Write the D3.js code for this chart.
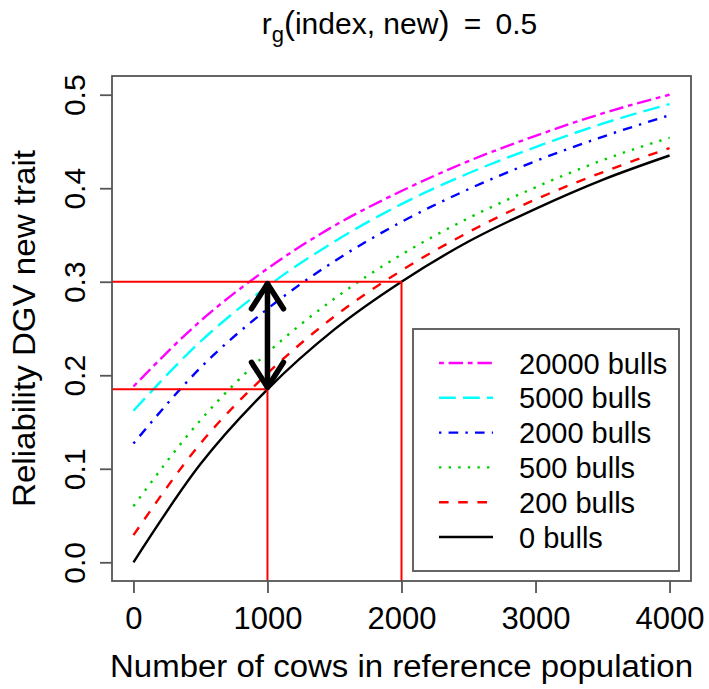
<!DOCTYPE html>
<html>
<head>
<meta charset="utf-8">
<script src="https://cdn.jsdelivr.net/npm/d3@7"></script>
<style>
	body { margin: 0; background: #fff; }
	svg { display: block; font-family: 'Liberation Sans', Arial, sans-serif; }
</style>
</head>
<body>
<div id="chart"></div>
<script>
// number of cows in reference population
const cows = [0, 500, 1000, 1500, 2000, 2500, 3000, 3500, 4000];

// reliability of DGV for the new trait, one array per number of bulls
const bulls20000 = [0.188, 0.258, 0.314, 0.360, 0.397, 0.429, 0.456, 0.480, 0.500];
const bulls5000 = [0.162, 0.236, 0.295, 0.343, 0.383, 0.416, 0.444, 0.469, 0.490];
const bulls2000 = [0.127, 0.208, 0.271, 0.322, 0.364, 0.399, 0.429, 0.455, 0.478];
const bulls500 = [0.060, 0.152, 0.224, 0.282, 0.329, 0.368, 0.401, 0.430, 0.454];
const bulls200 = [0.029, 0.127, 0.202, 0.263, 0.312, 0.353, 0.388, 0.417, 0.443];
const bulls0 = [0.000, 0.105, 0.185, 0.249, 0.300, 0.343, 0.378, 0.409, 0.435];

const seriesNames = ['20000 bulls', '5000 bulls', '2000 bulls', '500 bulls', '200 bulls', '0 bulls'];
const seriesColors = ['#ff00ff', '#00ffff', '#0000ff', '#00cd00', '#ff0000', '#000000'];
// R lty: twodash, longdash, dotdash, dotted, dashed, solid
const seriesLty = ['2262', '73', '1343', '13', '44', ''];

const xTicks = [0, 1000, 2000, 3000, 4000];
const yTicks = [0, 0.1, 0.2, 0.3, 0.4, 0.5];

// red guide lines: cows without bulls needed for the reliability gain
const guideCows = [1000, 2000];
const guideRel = [0.185, 0.3];

const width = 709;
const height = 689;
const lwd = 2.4;

const allSeries = [bulls20000, bulls5000, bulls2000, bulls500, bulls200, bulls0];

const x = d3.scaleLinear().domain([-160, 4160]).range([112, 691]);
const y = d3.scaleLinear().domain([-0.02, 0.52]).range([581, 76]);

const svg = d3.select('#chart').append('svg').attr('width', width).attr('height', height);

const dash = (lty) => (lty ? lty.split('').map((c) => +c * lwd).join(' ') : null);

// curves
const line = d3
	.line()
	.x((d) => x(d[0]))
	.y((d) => y(d[1]))
	.curve(d3.curveMonotoneX);

svg.append('g')
	.selectAll('path')
	.data(allSeries)
	.join('path')
	.attr('d', (s) => line(s.map((v, i) => [cows[i], v])))
	.attr('fill', 'none')
	.attr('stroke', (d, i) => seriesColors[i])
	.attr('stroke-width', lwd)
	.attr('stroke-dasharray', (d, i) => dash(seriesLty[i]));

// red guide lines
const guides = svg.append('g').attr('stroke', '#ff0000').attr('stroke-width', 2);
guideCows.forEach((c, i) => {
	guides.append('line')
		.attr('x1', x(-160)).attr('x2', x(c))
		.attr('y1', y(guideRel[i])).attr('y2', y(guideRel[i]));
	guides.append('line')
		.attr('x1', x(c)).attr('x2', x(c))
		.attr('y1', y(guideRel[i])).attr('y2', y(-0.02));
});

// double arrow
const ax = x(guideCows[0]);
const aTop = y(guideRel[1]);
const aBot = y(guideRel[0]);
const arrow = svg.append('g')
	.attr('stroke', '#000').attr('stroke-width', 5.5)
	.attr('fill', 'none').attr('stroke-linecap', 'round').attr('stroke-linejoin', 'round');
arrow.append('line').attr('x1', ax).attr('x2', ax).attr('y1', aTop + 2).attr('y2', aBot - 2);
arrow.append('path').attr('d', `M${ax - 16},${aTop + 27}L${ax},${aTop + 2}L${ax + 16},${aTop + 27}`);
arrow.append('path').attr('d', `M${ax - 16},${aBot - 27}L${ax},${aBot - 2}L${ax + 16},${aBot - 27}`);

// axes
const xAxis = svg.append('g')
	.attr('transform', `translate(0,${y(-0.02)})`)
	.call(d3.axisBottom(x).tickValues(xTicks).tickFormat(d3.format('d')).tickSize(12).tickPadding(14));
xAxis.select('.domain').remove();
xAxis.selectAll('line').attr('stroke', '#555').attr('stroke-width', 1.8);
xAxis.selectAll('text').attr('font-size', 31).attr('fill', '#000').attr('font-family', null);

const yAxis = svg.append('g')
	.attr('transform', `translate(${x(-160)},0)`)
	.call(d3.axisLeft(y).tickValues(yTicks).tickFormat(d3.format('.1f')).tickSize(12));
yAxis.select('.domain').remove();
yAxis.selectAll('line').attr('stroke', '#555').attr('stroke-width', 1.8);
yAxis.selectAll('text')
	.attr('font-size', 30).attr('fill', '#000').attr('font-family', null)
	.attr('x', 0).attr('dy', 0)
	.attr('text-anchor', 'middle')
	.attr('transform', 'translate(-27,0) rotate(-90)');

// plot box
svg.append('rect')
	.attr('x', x(-160)).attr('y', y(0.52))
	.attr('width', x(4160) - x(-160)).attr('height', y(-0.02) - y(0.52))
	.attr('fill', 'none').attr('stroke', '#555').attr('stroke-width', 1.8);

// legend
const legend = svg.append('g');
legend.append('rect')
	.attr('x', 413).attr('y', 329).attr('width', 266).attr('height', 242)
	.attr('fill', '#fff').attr('stroke', '#555').attr('stroke-width', 1.8);
const items = legend.selectAll('g.item')
	.data(seriesNames)
	.join('g')
	.attr('class', 'item')
	.attr('transform', (d, i) => `translate(0,${363 + i * 34.8})`);
items.append('line')
	.attr('x1', 439).attr('x2', 493)
	.attr('stroke', (d, i) => seriesColors[i])
	.attr('stroke-width', lwd)
	.attr('stroke-dasharray', (d, i) => dash(seriesLty[i]));
items.append('text')
	.attr('x', 519).attr('y', 10.5)
	.attr('font-size', 29)
	.text((d) => d);

// axis titles
svg.append('text')
	.attr('x', (x(-160) + x(4160)) / 2).attr('y', 677)
	.attr('text-anchor', 'middle').attr('font-size', 31)
	.attr('textLength', 583).attr('lengthAdjust', 'spacingAndGlyphs')
	.text('Number of cows in reference population');

svg.append('text')
	.attr('transform', `translate(35,${(y(-0.02) + y(0.52)) / 2}) rotate(-90)`)
	.attr('text-anchor', 'middle').attr('font-size', 31)
	.attr('textLength', 357).attr('lengthAdjust', 'spacingAndGlyphs')
	.text('Reliability DGV new trait');

// title
const title = svg.append('text')
	.attr('x', (x(-160) + x(4160)) / 2 - 2).attr('y', 34)
	.attr('text-anchor', 'middle').attr('font-size', 30);
title.append('tspan').text('r');
title.append('tspan').attr('font-size', 22).attr('dy', 8).text('g');
title.append('tspan').attr('dy', -8).attr('font-size', 33).text('(');
title.append('tspan').text('index, new');
title.append('tspan').attr('font-size', 33).text(')');
title.append('tspan').attr('dx', 6).text(' = ');
title.append('tspan').attr('dx', 6).text('0.5');
</script>
</body>
</html>
